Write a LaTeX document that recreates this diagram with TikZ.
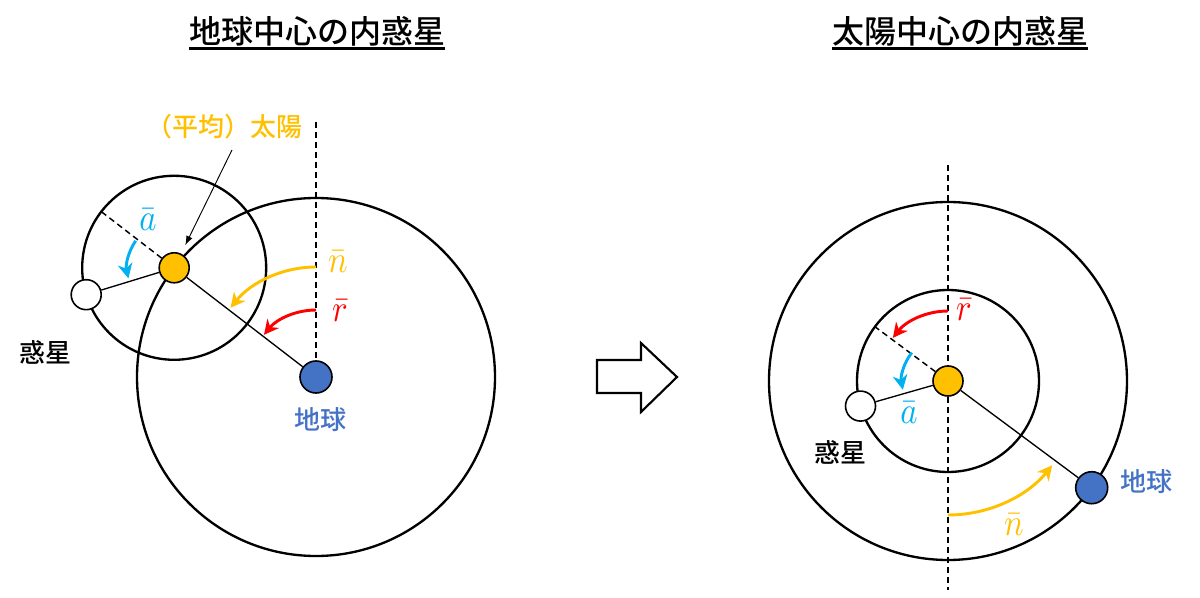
\documentclass[tikz,border=0pt]{standalone}
\usepackage{fontspec}
\setmainfont{Noto Sans CJK JP}[BoldFont={Noto Sans CJK JP Medium}]
\usetikzlibrary{arrows.meta}
\definecolor{sunY}{HTML}{FFC000}
\definecolor{earthB}{HTML}{4472C4}
\definecolor{skyB}{HTML}{00B0F0}
\definecolor{redA}{HTML}{FF0000}
\newcommand\ulbox[1]{\setbox0\hbox{#1}\rlap{\rule[-4.5pt]{\wd0}{1.6pt}}\box0}
\newcommand\bigmath[1]{\scalebox{2.45}[2.85]{$#1$}}
\begin{document}
\begin{tikzpicture}[x=0.75pt,y=0.75pt,
  orbit/.style={line width=1.75pt},
  link/.style={line width=1pt},
  guide/.style={line width=1.1pt, dash pattern=on 4.5pt off 3pt},
  sunnode/.style={circle, draw, line width=1.2pt, fill=sunY, minimum size=22.5pt, inner sep=0pt},
  earthnode/.style={circle, draw, line width=1.2pt, fill=earthB, minimum size=24pt, inner sep=0pt},
  planetnode/.style={circle, draw, line width=1.2pt, fill=white, minimum size=22.5pt, inner sep=0pt},
  motion/.style={line width=2.2pt, -{Stealth[length=11pt,width=11pt,inset=3.5pt]}},
  lab/.style={font=\fontsize{19.5}{22}\selectfont\bfseries, inner sep=0pt},
  mlab/.style={font=\normalsize, inner sep=0pt},
  titlestyle/.style={font=\fontsize{24}{28}\selectfont\bfseries, inner sep=0pt}]

\useasboundingbox (0,0) rectangle (1200,597);

% ---------- titles ----------
\node[titlestyle] (t1) at (317,564) {\ulbox{地球中心の内惑星}};
\node[titlestyle] (t2) at (960,564) {\ulbox{太陽中心の内惑星}};

% ---------- left: geocentric ----------
\coordinate (E1c) at (316,220);
\coordinate (S1c) at ([shift={(142.4:179)}]E1c);
\coordinate (P1c) at ([shift={(197:92)}]S1c);
\draw[orbit] (E1c) circle[radius=179];
\draw[orbit] (S1c) circle[radius=92];
\node[earthnode] (E1) at (E1c) {};
\node[sunnode] (S1) at (S1c) {};
\node[planetnode] (P1) at (P1c) {};
\coordinate (V1) at (316,475);
\coordinate (D1) at ([shift={(142.4:92)}]S1c);
\draw[guide] (V1) -- (E1);
\draw[guide] (S1) -- (D1);
\draw[link] (S1) -- (E1);
\draw[link] (S1) -- (P1);
\draw[motion, sunY] ([shift={(90:110)}]E1c) arc[start angle=90, end angle=141, radius=110];
\draw[motion, redA] ([shift={(90:67)}]E1c) arc[start angle=90, end angle=141, radius=67];
\draw[motion, skyB] ([shift={(145:47)}]S1c) arc[start angle=145, end angle=193, radius=47];
\node[mlab, text=sunY] (nL1) at (338,335) {\bigmath{\bar{n}}};
\node[mlab, text=redA] (rL1) at (340,286) {\bigmath{\bar{r}}};
\node[mlab, text=skyB] (aL1) at (148,377) {\bigmath{\bar{a}}};
\node[lab, text=sunY] (sunlab) at (224,470) {（平均）太陽};
\coordinate (ann1) at (232,447);
\draw[line width=0.7pt, -{Latex[length=7pt,width=5pt]}, shorten >=7pt] (ann1) -- (S1);
\node[lab] (pl1) at (45,245) {惑星};
\node[lab, text=earthB] (el1) at (320,177) {地球};

% ---------- transition arrow ----------
\draw[line width=1.6pt, line join=miter] (597,237) -- (641,237) -- (641,254) -- (677,220) -- (641,185) -- (641,204) -- (597,204) -- cycle;

% ---------- right: heliocentric ----------
\coordinate (S2c) at (948,216);
\coordinate (E2c) at ([shift={(-36.6:179)}]S2c);
\coordinate (P2c) at ([shift={(196:91)}]S2c);
\draw[orbit] (S2c) circle[radius=179];
\draw[orbit] (S2c) circle[radius=91];
\node[sunnode] (S2) at (S2c) {};
\node[earthnode] (E2) at (E2c) {};
\node[planetnode] (P2) at (P2c) {};
\coordinate (V2t) at (948,432);
\coordinate (V2b) at (948,7);
\coordinate (D2) at ([shift={(143.4:91)}]S2c);
\draw[guide] (V2t) -- (S2);
\draw[guide] (S2) -- (V2b);
\draw[guide] (S2) -- (D2);
\draw[link] (S2) -- (E2);
\draw[link] (S2) -- (P2);
\draw[motion, redA] ([shift={(90:70)}]S2c) arc[start angle=90, end angle=142, radius=70];
\draw[motion, skyB] ([shift={(142:46)}]S2c) arc[start angle=142, end angle=191, radius=46];
\draw[motion, sunY] ([shift={(270:134)}]S2c) arc[start angle=270, end angle=321, radius=134];
\node[mlab, text=redA] (rL2) at (964,287) {\bigmath{\bar{r}}};
\node[mlab, text=skyB] (aL2) at (909,184) {\bigmath{\bar{a}}};
\node[mlab, text=sunY] (nL2) at (1014,72) {\bigmath{\bar{n}}};
\node[lab] (pl2) at (840,145) {惑星};
\node[lab, text=earthB] (el2) at (1146,115) {地球};
\end{tikzpicture}
\end{document}
